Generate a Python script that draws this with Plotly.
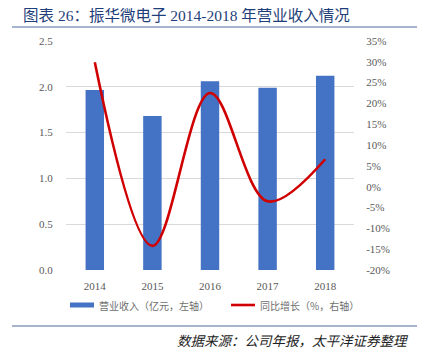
import plotly.graph_objects as go

years = ["2014", "2015", "2016", "2017", "2018"]
revenue = [1.965, 1.68, 2.06, 1.99, 2.12]          # 亿元, left axis
growth = [29.9, -14.2, 22.5, -3.5, 6.6]             # %, right axis
left_ticks = [0.0, 0.5, 1.0, 1.5, 2.0, 2.5]
left_labels = ["0.0", "0.5", "1.0", "1.5", "2.0", "2.5"]
right_ticks = [-20, -15, -10, -5, 0, 5, 10, 15, 20, 25, 30, 35]
right_labels = ["-20%", "-15%", "-10%", "-5%", "0%", "5%", "10%", "15%", "20%", "25%", "30%", "35%"]
bar_name = "营业收入（亿元，左轴）"
line_name = "同比增长（%，右轴）"

# page body has an 8px margin; layout below is given in screen pixels
OFF = 8
W, H = 425 - OFF, 357 - OFF
L, R, T, B = 66, 354, 41, 270   # plot area in screen pixels

def px(x):
    return (x - L) / (R - L)

def py(y):
    return (B - y) / (B - T)

BLUE = "#4472C4"
RED = "#D00000"
SERIF = "Liberation Serif"

fig = go.Figure()
fig.add_trace(go.Bar(
    x=years, y=revenue, name=bar_name,
    marker=dict(color=BLUE, line=dict(width=0)),
    yaxis="y", showlegend=False,
))
fig.add_trace(go.Scatter(
    x=years, y=growth, name=line_name,
    mode="lines", line=dict(color=RED, width=2.6, shape="spline", smoothing=1.0),
    yaxis="y2", showlegend=False,
))

tickfont = dict(family=SERIF, size=11, color="#595959")

fig.update_layout(
    width=W, height=H,
    margin=dict(l=L - OFF, r=(W + OFF) - R, t=T - OFF, b=(H + OFF) - B, autoexpand=False),
    paper_bgcolor="white", plot_bgcolor="white",
    font=dict(family=SERIF),
    bargap=0.68,
    showlegend=False,
    xaxis=dict(
        type="category", showgrid=False, showline=False, zeroline=False,
        tickfont=tickfont, ticks="outside", ticklen=6, tickcolor="rgba(0,0,0,0)",
        automargin=False,
    ),
    yaxis=dict(
        range=[0, 2.5], tickmode="array", tickvals=left_ticks, ticktext=left_labels,
        showgrid=True, gridcolor="#D9D9D9", gridwidth=1, zeroline=False,
        showline=False, tickfont=tickfont, automargin=False,
        ticks="outside", ticklen=10, tickcolor="rgba(0,0,0,0)",
    ),
    yaxis2=dict(
        range=[-20, 35], tickmode="array", tickvals=right_ticks, ticktext=right_labels,
        overlaying="y", side="right", showgrid=False, zeroline=False,
        showline=False, tickfont=tickfont, automargin=False,
        ticks="outside", ticklen=9, tickcolor="rgba(0,0,0,0)",
    ),
    shapes=[
        dict(type="line", xref="paper", yref="paper", x0=px(12), x1=px(430), y0=py(27), y1=py(27),
             line=dict(color="#4F6A9C", width=1.2)),
        dict(type="line", xref="paper", yref="paper", x0=px(12), x1=px(430), y0=py(326), y1=py(326),
             line=dict(color="#4F6A9C", width=1.2)),
        # legend swatches
        dict(type="rect", xref="paper", yref="paper", x0=px(70), x1=px(94), y0=py(307.5), y1=py(302.5),
             fillcolor=BLUE, line=dict(width=0)),
        dict(type="line", xref="paper", yref="paper", x0=px(231), x1=px(255), y0=py(305), y1=py(305),
             line=dict(color=RED, width=2.6)),
    ],
    annotations=[
        dict(text="图表 26：振华微电子 2014-2018 年营业收入情况", xref="paper", yref="paper",
             x=px(21), y=py(15.5), xanchor="left", yanchor="middle", showarrow=False,
             font=dict(family="Liberation Serif, Noto Sans CJK SC", size=15.5, color="#1F3F7A")),
        dict(text=bar_name, xref="paper", yref="paper",
             x=px(97), y=py(305), xanchor="left", yanchor="middle", showarrow=False,
             font=dict(family="Noto Sans CJK SC", size=10, color="#6E6E6E")),
        dict(text=line_name, xref="paper", yref="paper",
             x=px(258), y=py(305), xanchor="left", yanchor="middle", showarrow=False,
             font=dict(family="Noto Sans CJK SC", size=10, color="#6E6E6E")),
        dict(text="<i>数据来源：公司年报，太平洋证券整理</i>", xref="paper", yref="paper",
             x=px(411), y=py(340), xanchor="right", yanchor="middle", showarrow=False,
             font=dict(family="Noto Sans CJK SC", size=13.5, color="#222222")),
    ],
)

fig.write_html("out.html")
